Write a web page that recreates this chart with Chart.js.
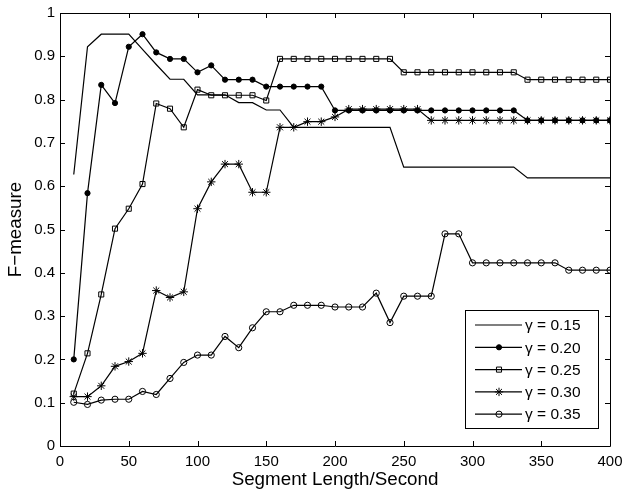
<!DOCTYPE html>
<html>
<head>
<meta charset="utf-8">
<script src="https://cdn.jsdelivr.net/npm/chart.js@4/dist/chart.umd.min.js"></script>
<style>
  html, body { margin: 0; padding: 0; background: #fff; }
  #wrap { width: 624px; height: 492px; }
</style>
</head>
<body>
<div id="wrap"><canvas id="c" width="624" height="492"></canvas></div>
<script>
// ---- data ----
const segmentLengths = [10,20,30,40,50,60,70,80,90,100,110,120,130,140,150,160,170,180,190,200,
                        210,220,230,240,250,260,270,280,290,300,310,320,330,340,350,360,370,380,390,400];
const seriesLabels = ['γ = 0.15', 'γ = 0.20', 'γ = 0.25', 'γ = 0.30', 'γ = 0.35'];
const gamma015 = [0.627,0.922,0.951,0.951,0.951,0.916,0.881,0.847,0.847,0.811,0.811,0.811,0.793,0.793,0.776,0.776,0.736,0.736,0.736,0.736,
                  0.736,0.736,0.736,0.736,0.644,0.644,0.644,0.644,0.644,0.644,0.644,0.644,0.644,0.619,0.619,0.619,0.619,0.619,0.619,0.619];
const gamma020 = [0.200,0.584,0.834,0.792,0.922,0.951,0.909,0.894,0.894,0.863,0.879,0.846,0.846,0.846,0.830,0.830,0.830,0.830,0.830,0.775,
                  0.775,0.775,0.775,0.775,0.775,0.775,0.775,0.775,0.775,0.775,0.775,0.775,0.775,0.752,0.752,0.752,0.752,0.752,0.752,0.752];
const gamma025 = [0.121,0.214,0.350,0.502,0.548,0.605,0.791,0.779,0.736,0.823,0.810,0.810,0.810,0.810,0.798,0.894,0.894,0.894,0.894,0.894,
                  0.894,0.894,0.894,0.894,0.863,0.863,0.863,0.863,0.863,0.863,0.863,0.863,0.863,0.846,0.846,0.846,0.846,0.846,0.846,0.846];
const gamma030 = [0.114,0.114,0.139,0.184,0.195,0.214,0.359,0.343,0.356,0.548,0.610,0.651,0.651,0.586,0.586,0.736,0.736,0.749,0.749,0.760,
                  0.778,0.778,0.778,0.778,0.778,0.778,0.752,0.752,0.752,0.752,0.752,0.752,0.752,0.752,0.752,0.752,0.752,0.752,0.752,0.752];
const gamma035 = [0.101,0.096,0.106,0.108,0.108,0.126,0.119,0.156,0.193,0.210,0.210,0.253,0.227,0.273,0.310,0.310,0.325,0.325,0.325,0.321,
                  0.321,0.321,0.353,0.285,0.346,0.346,0.346,0.490,0.490,0.423,0.423,0.423,0.423,0.423,0.423,0.423,0.406,0.406,0.406,0.406];
const xTicks = [0,50,100,150,200,250,300,350,400];
const yTicks = [0,0.1,0.2,0.3,0.4,0.5,0.6,0.7,0.8,0.9,1];
const yTickLabels = ['0','0.1','0.2','0.3','0.4','0.5','0.6','0.7','0.8','0.9','1'];

// ---- styles ----
const FONT = "'Liberation Sans', Arial, Helvetica, sans-serif";
const seriesStyle = [
  { pointStyle: 'circle', pointRadius: 0, fill: 'rgba(0,0,0,0)' },
  { pointStyle: 'circle', pointRadius: 2.6, fill: '#000' },
  { pointStyle: 'rect', pointRadius: 3.6, fill: 'rgba(0,0,0,0)' },
  { pointStyle: 'star', pointRadius: 4.2, fill: 'rgba(0,0,0,0)' },
  { pointStyle: 'circle', pointRadius: 3.1, fill: 'rgba(0,0,0,0)' }
];
const seriesValues = [gamma015, gamma020, gamma025, gamma030, gamma035];

const datasets = seriesValues.map((vals, i) => ({
  label: seriesLabels[i],
  data: vals.map((v, k) => ({ x: segmentLengths[k], y: v })),
  borderColor: '#000',
  borderWidth: 1.2,
  backgroundColor: seriesStyle[i].fill,
  pointStyle: seriesStyle[i].pointStyle,
  pointRadius: seriesStyle[i].pointRadius,
  pointBorderWidth: 1,
  pointBorderColor: '#000',
  pointBackgroundColor: seriesStyle[i].fill,
  tension: 0,
  fill: false
}));

function drawMarker(ctx, style, r, x, y) {
  if (Chart.helpers && Chart.helpers.drawPoint) {
    Chart.helpers.drawPoint(ctx, { pointStyle: style, rotation: 0, radius: r, borderWidth: 1 }, x, y);
  }
}

const frameAndTicks = {
  id: 'frameAndTicks',
  afterDraw(chart) {
    const { ctx, chartArea: a, scales } = chart;
    ctx.save();
    ctx.strokeStyle = '#000';
    ctx.lineWidth = 1;
    ctx.beginPath();
    ctx.rect(Math.round(a.left) + 0.5, Math.round(a.top) + 0.5,
             Math.round(a.right - a.left), Math.round(a.bottom - a.top));
    ctx.stroke();
    const L = 5;
    ctx.beginPath();
    scales.x.ticks.forEach(t => {
      const px = Math.round(scales.x.getPixelForValue(t.value)) + 0.5;
      ctx.moveTo(px, a.bottom); ctx.lineTo(px, a.bottom - L);
      ctx.moveTo(px, a.top); ctx.lineTo(px, a.top + L);
    });
    scales.y.ticks.forEach(t => {
      const py = Math.round(scales.y.getPixelForValue(t.value)) + 0.5;
      ctx.moveTo(a.left, py); ctx.lineTo(a.left + L, py);
      ctx.moveTo(a.right, py); ctx.lineTo(a.right - L, py);
    });
    ctx.stroke();

    // legend box
    const bx = 465.5, by = 310.5, bw = 133, bh = 118;
    ctx.fillStyle = '#fff';
    ctx.fillRect(bx, by, bw, bh);
    ctx.strokeRect(bx, by, bw, bh);
    ctx.font = '15.5px ' + FONT;
    ctx.textBaseline = 'middle';
    ctx.textAlign = 'left';
    chart.data.datasets.forEach((ds, i) => {
      const y = 325 + i * 22.3;
      ctx.strokeStyle = '#000';
      ctx.lineWidth = 1.2;
      ctx.beginPath();
      ctx.moveTo(475, y); ctx.lineTo(522, y);
      ctx.stroke();
      if (ds.pointRadius > 0) {
        ctx.fillStyle = ds.pointBackgroundColor;
        ctx.lineWidth = 1;
        drawMarker(ctx, ds.pointStyle, ds.pointRadius, 499, y);
      }
      ctx.fillStyle = '#000';
      ctx.fillText(ds.label, 525, y + 1);
    });
    ctx.restore();
  }
};

new Chart(document.getElementById('c'), {
  type: 'line',
  data: { datasets },
  options: {
    responsive: false,
    animation: false,
    events: [],
    layout: { padding: { top: 13, right: 14, left: 0, bottom: 0 } },
    plugins: { legend: { display: false }, tooltip: { enabled: false } },
    scales: {
      x: {
        type: 'linear',
        min: 0, max: 400,
        afterBuildTicks: s => { s.ticks = xTicks.map(v => ({ value: v })); },
        afterFit: s => { s.height = 46; s.paddingLeft = 0; s.paddingRight = 0; },
        grid: { display: false, drawTicks: false },
        border: { display: false },
        ticks: { color: '#000', font: { family: FONT, size: 15 }, padding: 7, maxRotation: 0, autoSkip: false,
                 callback: v => String(v) },
        title: { display: true, text: 'Segment Length/Second', color: '#000', font: { family: FONT, size: 18.8 }, padding: { top: 0, bottom: 1 } }
      },
      y: {
        type: 'linear',
        min: 0, max: 1,
        afterBuildTicks: s => { s.ticks = yTicks.map(v => ({ value: v })); },
        afterFit: s => { s.width = 60; s.paddingTop = 0; s.paddingBottom = 0; },
        grid: { display: false, drawTicks: false },
        border: { display: false },
        ticks: { color: '#000', font: { family: FONT, size: 15 }, padding: 5, autoSkip: false,
                 callback: (v, idx) => yTickLabels[idx] },
        title: { display: true, text: 'F−measure', color: '#000', font: { family: FONT, size: 18.8 }, padding: { top: 5, bottom: 0 } }
      }
    }
  },
  plugins: [frameAndTicks]
});
</script>
</body>
</html>
